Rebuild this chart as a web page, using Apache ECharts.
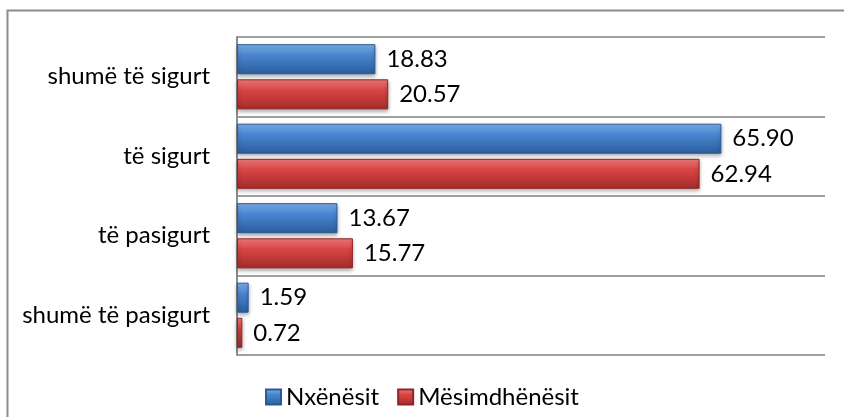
<!DOCTYPE html>
<html>
<head>
<meta charset="utf-8">
<script src="https://cdn.jsdelivr.net/npm/echarts@6/dist/echarts.min.js"></script>
<style>
  html, body { margin: 0; padding: 0; background: #fff; }
  #chart { width: 844px; height: 417px; }
</style>
</head>
<body>
<div id="chart"></div>
<script>
  // kategorite nga lart poshte
  var categories = ['shumë të sigurt', 'të sigurt', 'të pasigurt', 'shumë të pasigurt']
  var seriesNames = ['Nxënësit', 'Mësimdhënësit']
  var nxenesit = [18.83, 65.90, 13.67, 1.59]
  var mesimdhenesit = [20.57, 62.94, 15.77, 0.72]

  function grad (top, mid, bot) {
    return new echarts.graphic.LinearGradient(0, 0, 0, 1, [
      { offset: 0, color: top },
      { offset: 0.35, color: mid },
      { offset: 1, color: bot }
    ])
  }

  var blue = grad('#7fb2ee', '#4a86d0', '#2b5d9c')
  var red = grad('#f48080', '#d94545', '#a42b2b')
  var font = 'Lato'
  var fs = 24

  var chart = echarts.init(document.getElementById('chart'))
  var option = {
    animation: false,
    textStyle: { fontFamily: font },
    graphic: [
      {
        type: 'rect',
        left: 5,
        top: 8,
        shape: { width: 900, height: 500 },
        style: { fill: 'none', stroke: '#8c8c8c', lineWidth: 2 },
        z: -1
      }
    ],
    legend: {
      data: seriesNames,
      bottom: 3,
      left: 'center',
      itemWidth: 15,
      itemHeight: 15,
      itemGap: 18,
      icon: 'rect',
      textStyle: { fontSize: fs, color: '#000', fontFamily: font }
    },
    grid: {
      left: 237,
      right: 19,
      top: 37,
      bottom: 62
    },
    xAxis: {
      type: 'value',
      min: 0,
      max: 80,
      show: false
    },
    yAxis: {
      type: 'category',
      data: categories,
      inverse: true,
      axisLine: { show: true, lineStyle: { color: '#8c8c8c', width: 2 } },
      axisTick: { show: false },
      splitLine: { show: true, lineStyle: { color: '#a0a0a0', width: 2 } },
      axisLabel: { fontSize: fs, color: '#000', margin: 27, fontFamily: font }
    },
    series: [
      {
        name: seriesNames[0],
        type: 'bar',
        data: nxenesit,
        barWidth: 30,
        barGap: '17%',
        itemStyle: {
          color: blue,
          borderColor: '#2a5a94',
          borderWidth: 1,
          shadowColor: 'rgba(0,0,0,0.35)',
          shadowBlur: 4,
          shadowOffsetY: 2
        },
        label: {
          show: true,
          position: 'right',
          distance: 11,
          fontSize: fs,
          color: '#000',
          fontFamily: font,
          formatter: function (p) { return p.value.toFixed(2) }
        }
      },
      {
        name: seriesNames[1],
        type: 'bar',
        data: mesimdhenesit,
        barWidth: 30,
        itemStyle: {
          color: red,
          borderColor: '#8e2424',
          borderWidth: 1,
          shadowColor: 'rgba(0,0,0,0.35)',
          shadowBlur: 4,
          shadowOffsetY: 2
        },
        label: {
          show: true,
          position: 'right',
          distance: 11,
          fontSize: fs,
          color: '#000',
          fontFamily: font,
          formatter: function (p) { return p.value.toFixed(2) }
        }
      }
    ]
  }
  chart.setOption(option)
</script>
</body>
</html>
